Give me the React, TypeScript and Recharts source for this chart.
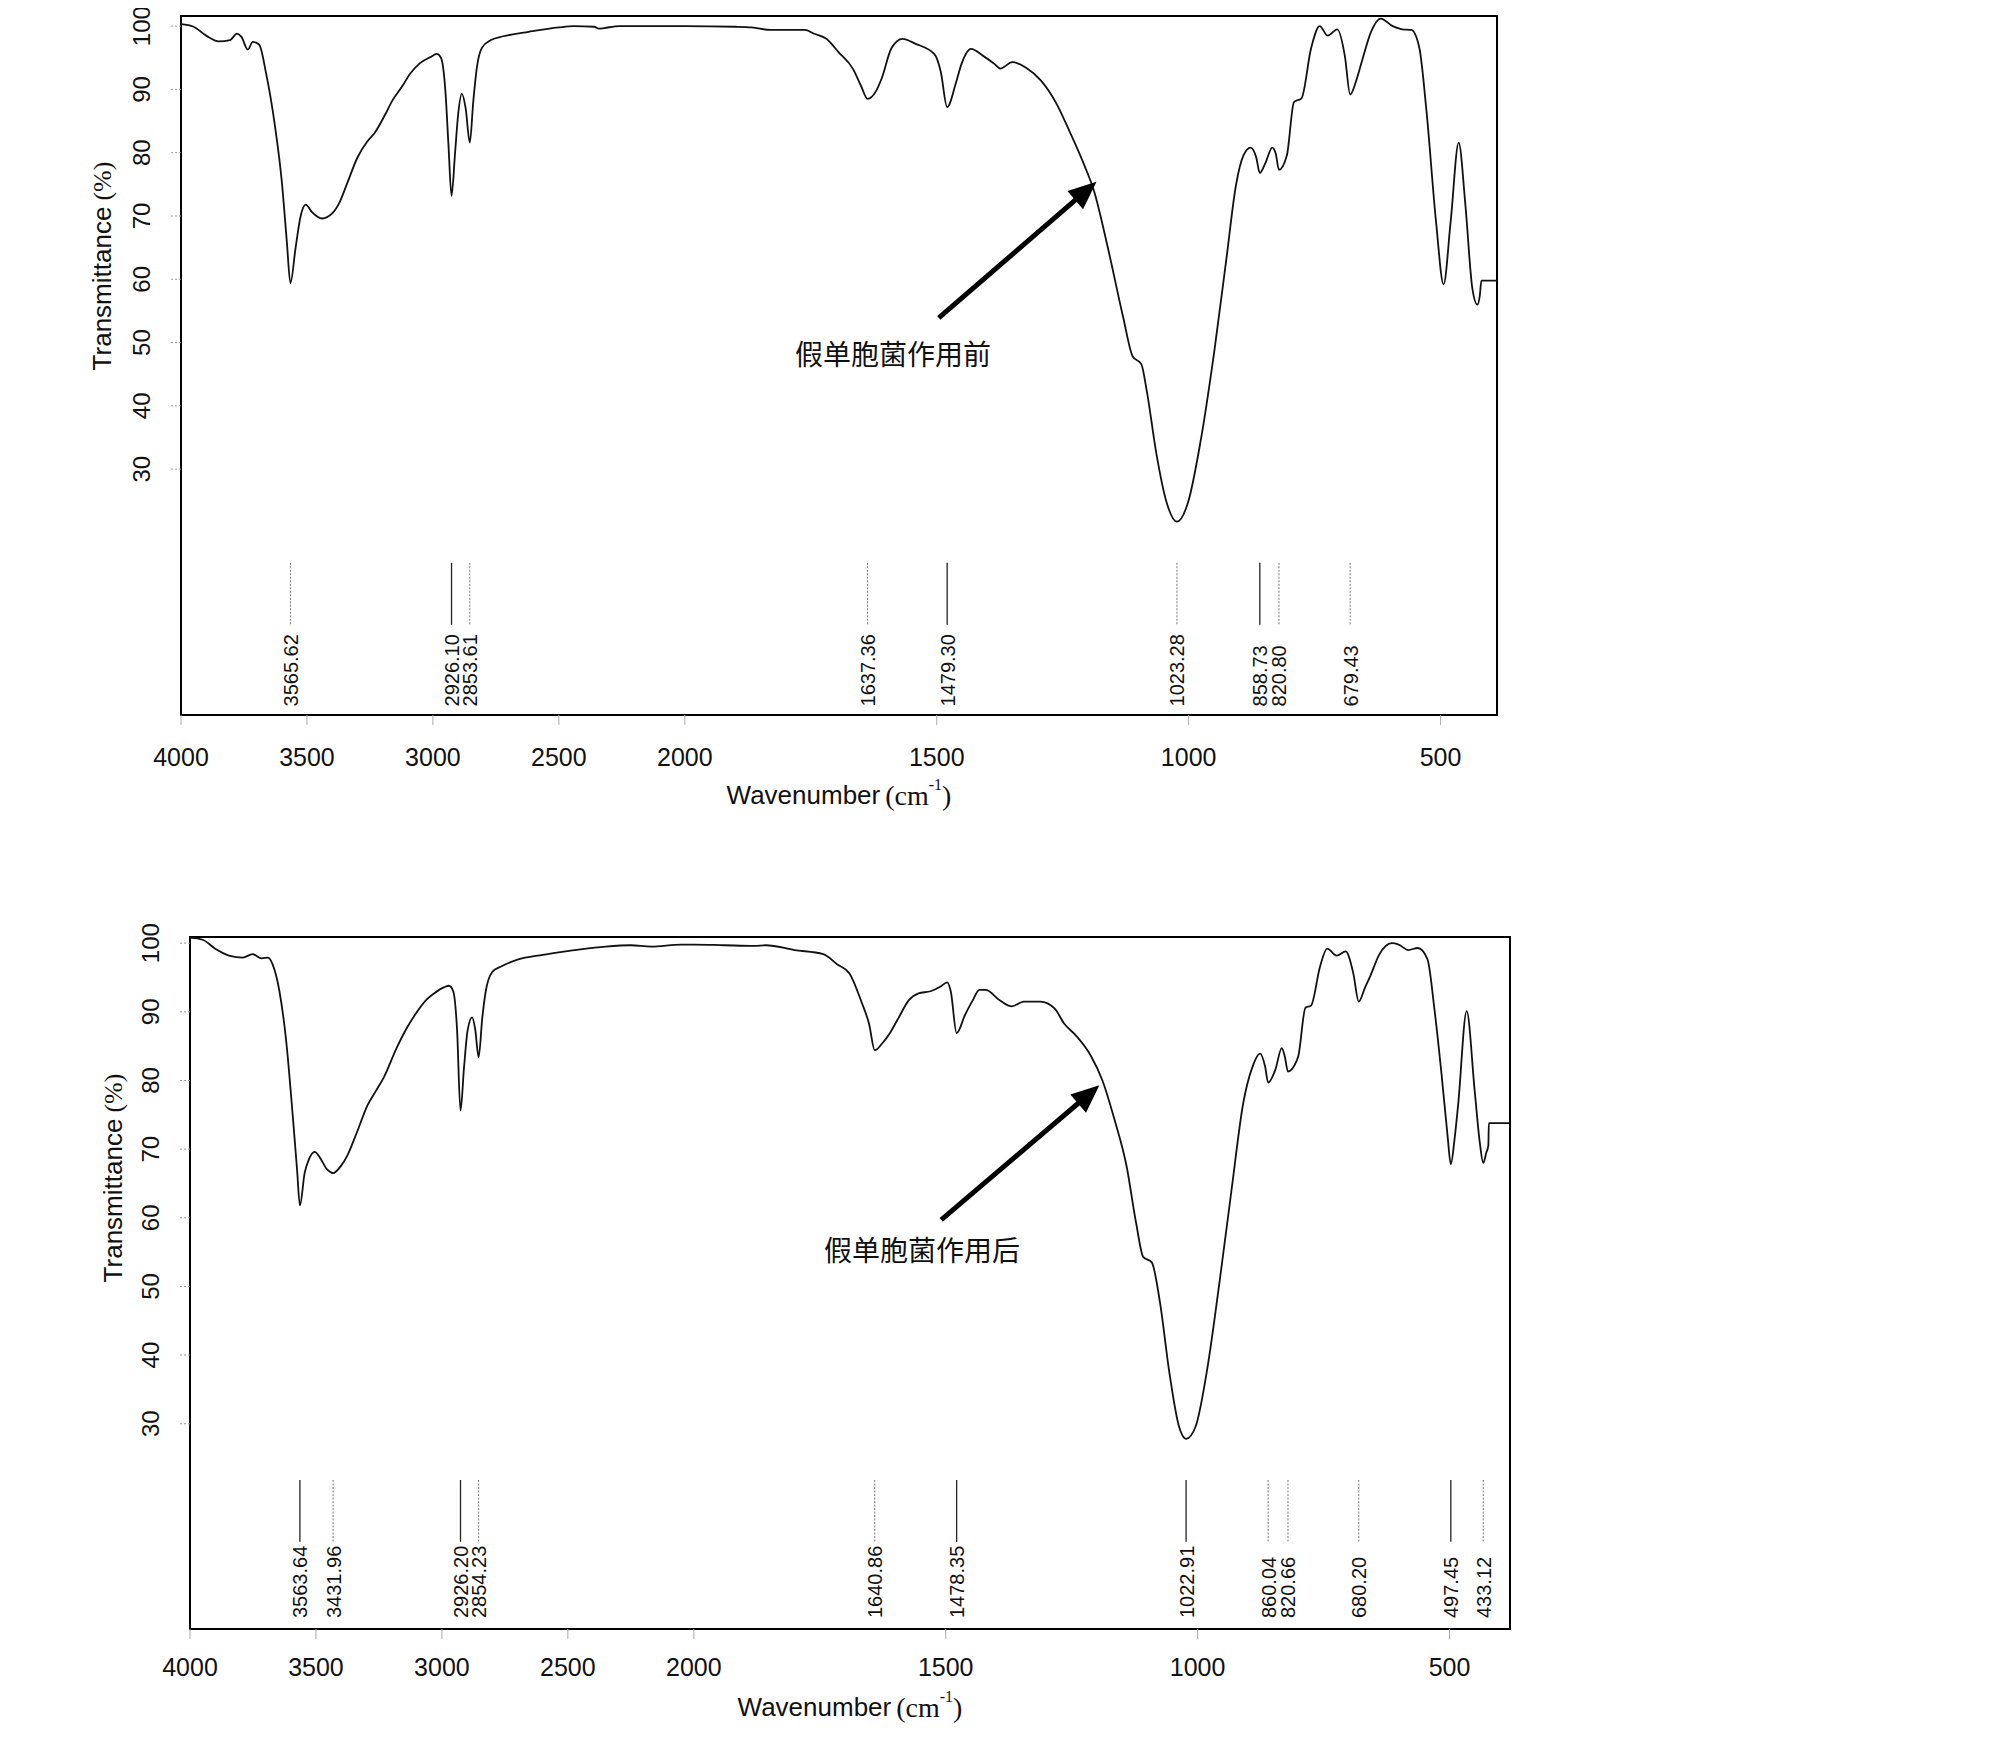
import React from "react";
import {
  LineChart,
  Line,
  XAxis,
  YAxis,
  ReferenceLine,
  ReferenceDot,
  ReferenceArea,
} from "recharts";

// axis ticks
const xTickLabels = [4000, 3500, 3000, 2500, 2000, 1500, 1000, 500];
const yTicks = [30, 40, 50, 60, 70, 80, 90, 100];

// the instrument plots 4000-2000 at half the scale of 2000-400
const toU = (w: number) => (w >= 2000 ? (4000 - w) / 2 : 1000 + (2000 - w));
const fromU = (u: number) => (u <= 1000 ? 4000 - u * 2 : 2000 - (u - 1000));

// spectrum before treatment (假单胞菌作用前)
const beforeWave = [
  4000, 3950, 3900, 3850, 3805, 3778, 3760, 3735, 3715, 3690, 3662, 3628, 3600,
  3580, 3565.62, 3545, 3525, 3505, 3480, 3440, 3400, 3370, 3340, 3300, 3260,
  3230, 3190, 3160, 3120, 3090, 3050, 3010, 2985, 2968, 2950, 2938, 2926.1,
  2912, 2900, 2885, 2870, 2853.61, 2840, 2825, 2805, 2770, 2720, 2620, 2500,
  2440, 2360, 2340, 2320, 2260, 2150, 2000, 1900, 1867, 1830, 1762, 1743, 1719,
  1695, 1666, 1650, 1637.36, 1620, 1609, 1590, 1568, 1542, 1505, 1492, 1479.3,
  1462, 1451, 1432, 1408, 1385, 1374, 1350, 1322, 1293, 1264, 1236, 1207, 1188,
  1159, 1130, 1111, 1094, 1083, 1064, 1044, 1023.28, 1001, 977, 949, 925, 906,
  891, 877, 866, 858.73, 848, 834, 827, 820.8, 805, 791, 776, 757, 740, 724,
  705, 690, 679.43, 667, 657, 638, 619, 595, 576, 558, 542, 528, 509, 494, 480,
  464, 451, 437, 427, 422, 419, 388,
];
const beforeT = [
  100.3, 99.9, 98.5, 97.6, 97.8, 98.8, 98.3, 96.3, 97.5, 97.1, 92.5, 84.5, 75.5,
  66, 59.4, 65, 70, 71.8, 70.6, 69.6, 70.4, 72.2, 75.2, 79.2, 81.8, 83.2, 86.0,
  88.3, 90.6, 92.5, 94.2, 95.1, 95.6, 95.0, 89.5, 81, 73.2, 80, 86, 89.3, 87,
  81.6, 88, 93.6, 96.6, 97.8, 98.4, 99.1, 99.8, 100, 99.9, 99.6, 99.7, 100, 100,
  100, 99.9, 99.8, 99.4, 99.4, 98.8, 98.0, 95.9, 93.2, 90.5, 88.5, 89.8, 91.8,
  96.5, 98.0, 97.2, 95.6, 92.8, 87.2, 91.0, 94.0, 96.4, 95.3, 94.0, 93.3, 94.3,
  93.4, 91.4, 88.0, 83.3, 78.0, 74.0, 64.5, 54.0, 47.8, 46.6, 42.3, 32.4, 24.8,
  21.7, 24.8, 34.1, 48.7, 63.3, 74.9, 79.6, 80.8, 79.3, 76.8, 78.3, 80.8, 79.8,
  77.3, 79.6, 88.0, 88.6, 96.5, 100, 98.5, 99.5, 95.3, 89.2, 91.5, 94.2, 99.1,
  101.2, 100, 99.5, 99.4, 96.5, 86.6, 69.1, 59.2, 69.1, 81.6, 72.0, 58.6, 56.0,
  57.5, 59.8, 59.8,
];
const beforePeaks = [
  3565.62, 2926.1, 2853.61, 1637.36, 1479.3, 1023.28, 858.73, 820.8, 679.43,
];
const beforePeakSolid = [false, true, false, false, true, false, true, false, false];

// spectrum after treatment (假单胞菌作用后)
const afterWave = [
  4000, 3950, 3900, 3845, 3790, 3752, 3716, 3690, 3672, 3645, 3618, 3592, 3575,
  3563.64, 3545, 3528, 3505, 3485, 3455, 3431.96, 3400, 3375, 3340, 3295, 3260,
  3230, 3180, 3140, 3106, 3060, 3034, 2990, 2972, 2955, 2940, 2926.2, 2912,
  2898, 2880, 2868, 2854.23, 2840, 2826, 2800, 2765, 2700, 2600, 2530, 2450,
  2350, 2250, 2170, 2050, 2000, 1940, 1880, 1857, 1800, 1743, 1715, 1691, 1667,
  1652, 1640.86, 1625, 1610, 1596, 1573, 1554, 1530, 1510, 1497, 1490, 1478.35,
  1462, 1447, 1433, 1421, 1393, 1369, 1345, 1312, 1284, 1265, 1241, 1212, 1189,
  1165, 1141, 1122, 1108, 1091, 1075, 1056, 1037, 1022.91, 1004, 980, 957, 933,
  909, 892, 876, 866, 860.04, 846, 833, 827, 820.66, 808, 800, 786, 775, 757,
  743, 724, 706, 691, 680.2, 668, 658, 639, 615, 601, 582, 563, 544, 530, 516,
  504, 497.45, 490, 483, 466, 450, 440, 433.12, 427, 423, 422, 380,
];
const afterT = [
  100.8, 100.5, 99.2, 98.2, 97.9, 98.4, 97.8, 97.9, 96.9, 93.0, 85.7, 74.8, 67.0,
  61.8, 66.5, 68.5, 69.6, 68.8, 67.0, 66.5, 67.6, 69.1, 72.2, 76.4, 78.6, 80.5,
  84.7, 87.6, 89.6, 91.8, 92.6, 93.6, 93.8, 93.0, 87.5, 75.6, 82, 87.3, 89.2,
  87.5, 83.4, 89, 93.0, 95.8, 96.6, 97.6, 98.3, 98.7, 99.1, 99.5, 99.7, 99.5,
  99.8, 99.8, 99.7, 99.6, 99.7, 99.0, 98.4, 96.9, 95.6, 91.4, 88.2, 84.4, 85.5,
  87.0, 88.8, 91.7, 92.7, 93.0, 93.7, 94.3, 93.0, 86.9, 89.5, 91.6, 93.2, 93.2,
  91.7, 90.8, 91.5, 91.5, 90.5, 88.3, 86.5, 83.6, 80.0, 74.3, 67.5, 59.2, 54.3,
  53.5, 47.8, 37.4, 29.6, 27.8, 29.6, 38.4, 50.4, 63.9, 76.9, 81.8, 83.9, 82.0,
  79.7, 81.5, 84.7, 83.5, 81.3, 82.2, 83.6, 90.6, 90.9, 96.6, 99.2, 98.2, 98.8,
  95.6, 91.5, 93.5, 95.1, 98.4, 100, 99.8, 99.0, 99.3, 97.7, 90.4, 81.0, 72,
  67.8, 71.5, 76.4, 90.1, 78.4, 71, 68.0, 69.5, 70.5, 73.8, 73.8,
];
const afterPeaks = [
  3563.64, 3431.96, 2926.2, 2854.23, 1640.86, 1478.35, 1022.91, 860.04, 820.66,
  680.2, 497.45, 433.12,
];
const afterPeakSolid = [
  true, false, true, false, false, true, true, false, false, false, true, false,
];

const SANS = "'Liberation Sans', Arial, sans-serif";
const SERIF = "'Liberation Serif', 'Times New Roman', serif";
const CJK = "'Noto Sans CJK SC', sans-serif";

type PanelProps = {
  wave: number[];
  trans: number[];
  peaks: number[];
  peakSolid: boolean[];
  yDomain: [number, number];
  peakTop: number;
  peakBottom: number;
  labelBase: number;
  note: string;
  arrowTail: [number, number];
  arrowTip: [number, number];
  notePos: [number, number];
  width: number;
  height: number;
  margin: { top: number; right: number; bottom: number; left: number };
  yAxisWidth: number;
  xTickGap: number;
  xLabelGap: number;
  yLabelDx: number;
  yLabelDy: number;
};

const XTick = (p: any) => (
  <text
    x={p.x}
    y={p.y}
    textAnchor="middle"
    dominantBaseline="central"
    fontSize={25}
    fontFamily={SANS}
    fill="#111"
  >
    {fromU(p.payload.value)}
  </text>
);

const YTick = (p: any) => (
  <text
    x={p.x}
    y={p.y}
    transform={`rotate(-90 ${p.x} ${p.y})`}
    textAnchor="middle"
    dominantBaseline="central"
    fontSize={24}
    fontFamily={SANS}
    fill="#111"
  >
    {p.payload.value}
  </text>
);

const Panel = (props: PanelProps) => {
  const data = props.wave.map((w, i) => ({ u: toU(w), t: props.trans[i] }));
  const uMax = toU(props.wave[props.wave.length - 1]);
  const [tailW, tailT] = props.arrowTail;
  const [tipW, tipT] = props.arrowTip;
  const tailU = toU(tailW);
  const tipU = toU(tipW);
  const shaftEnd = { x: tailU + (tipU - tailU) * 0.9, y: tailT + (tipT - tailT) * 0.9 };

  return (
    <LineChart width={props.width} height={props.height} data={data} margin={props.margin}>
      <XAxis
        type="number"
        dataKey="u"
        domain={[0, uMax]}
        ticks={xTickLabels.map(toU)}
        interval={0}
        axisLine={false}
        tickSize={10}
        tickMargin={props.xTickGap}
        tickLine={{ stroke: "#aaa" }}
        tick={XTick}
        height={100}
        label={(lp: any) => {
          const vb = lp.viewBox;
          const cx = vb.x + vb.width / 2;
          const cy = vb.y + props.xLabelGap;
          return (
            <text x={cx} y={cy} textAnchor="middle" dominantBaseline="central" fontSize={26} fill="#111">
              <tspan fontFamily={SANS}>Wavenumber</tspan>
              <tspan fontFamily={SERIF} fontSize={28} dx={5}>(cm</tspan>
              <tspan fontFamily={SERIF} fontSize={16} dy={-11}>-1</tspan>
              <tspan fontFamily={SERIF} fontSize={28} dy={11}>)</tspan>
            </text>
          );
        }}
      />
      <YAxis
        type="number"
        domain={props.yDomain}
        ticks={yTicks}
        interval={0}
        axisLine={false}
        tickSize={10}
        tickMargin={29}
        tickLine={{ stroke: "#999", strokeDasharray: "2 2" }}
        tick={YTick}
        width={props.yAxisWidth}
        label={(lp: any) => {
          const vb = lp.viewBox;
          const cx = vb.x + vb.width - props.yLabelDx;
          const cy = vb.y + props.yLabelDy;
          return (
            <text
              x={cx}
              y={cy}
              transform={`rotate(-90 ${cx} ${cy})`}
              textAnchor="middle"
              dominantBaseline="central"
              fontSize={26}
              fill="#111"
            >
              <tspan fontFamily={SANS}>Transmittance</tspan>
              <tspan fontFamily={SERIF} dx={6}>(%)</tspan>
            </text>
          );
        }}
      />
      <ReferenceArea
        x1={0}
        x2={uMax}
        y1={props.yDomain[0]}
        y2={props.yDomain[1]}
        fill="none"
        stroke="#000"
        strokeWidth={2}
        ifOverflow="visible"
      />
      {props.peaks.map((w, i) => (
        <ReferenceLine
          key={`pl${i}`}
          segment={[
            { x: toU(w), y: props.peakTop },
            { x: toU(w), y: props.peakBottom },
          ]}
          stroke={props.peakSolid[i] ? "#222" : "#777"}
          strokeWidth={props.peakSolid[i] ? 1.3 : 1}
          strokeDasharray={props.peakSolid[i] ? undefined : "2 1.5"}
        />
      ))}
      {props.peaks.map((w, i) => (
        <ReferenceDot
          key={`pt${i}`}
          x={toU(w)}
          y={props.labelBase}
          shape={(sp: any) => {
            const bx = sp.cx + 7.5;
            return (
              <text
                x={bx}
                y={sp.cy}
                transform={`rotate(-90 ${bx} ${sp.cy})`}
                textAnchor="start"
                fontSize={20}
                fontFamily={SANS}
                fill="#111"
              >
                {w.toFixed(2)}
              </text>
            );
          }}
        />
      ))}
      <ReferenceLine
        segment={[{ x: tailU, y: tailT }, shaftEnd]}
        stroke="#000"
        strokeWidth={5}
      />
      <ReferenceDot
        x={tipU}
        y={tipT}
        shape={(sp: any) => (
          <polygon
            points="0,0 -28,-12 -28,12"
            fill="#000"
            transform={`translate(${sp.cx} ${sp.cy}) rotate(-40.7)`}
          />
        )}
      />
      <ReferenceDot
        x={toU(props.notePos[0])}
        y={props.notePos[1]}
        shape={(sp: any) => (
          <text
            x={sp.cx}
            y={sp.cy}
            textAnchor="middle"
            dominantBaseline="central"
            fontSize={28}
            fontFamily={CJK}
            fill="#111"
          >
            {props.note}
          </text>
        )}
      />
      <Line
        type="monotone"
        dataKey="t"
        stroke="#111"
        strokeWidth={1.8}
        dot={false}
        isAnimationActive={false}
      />
    </LineChart>
  );
};

export default function App() {
  return (
    <div style={{ position: "relative", width: 1992, height: 1725, background: "#fff" }}>
      <div style={{ position: "absolute", left: 0, top: -8 }}>
        <Panel
          wave={beforeWave}
          trans={beforeT}
          peaks={beforePeaks}
          peakSolid={beforePeakSolid}
          yDomain={[-8.85, 101.6]}
          peakTop={15.2}
          peakBottom={5.4}
          labelBase={-7.5}
          note="假单胞菌作用前"
          arrowTail={[1496, 53.9]}
          arrowTip={[1183, 75.4]}
          notePos={[1587, 48.4]}
          width={1600}
          height={838}
          margin={{ top: 16, right: 111, bottom: 23, left: 0 }}
          yAxisWidth={173}
          xTickGap={32}
          xLabelGap={80}
          yLabelDx={79}
          yLabelDy={250}
        />
      </div>
      <div style={{ position: "absolute", left: 0, top: 872 }}>
        <Panel
          wave={afterWave}
          trans={afterT}
          peaks={afterPeaks}
          peakSolid={afterPeakSolid}
          yDomain={[0.1, 100.9]}
          peakTop={21.8}
          peakBottom={12.8}
          labelBase={1.7}
          note="假单胞菌作用后"
          arrowTail={[1509, 59.7]}
          arrowTip={[1195, 79.3]}
          notePos={[1547, 55.5]}
          width={1600}
          height={850}
          margin={{ top: 57, right: 98, bottom: 1, left: 0 }}
          yAxisWidth={182}
          xTickGap={28}
          xLabelGap={78}
          yLabelDx={77}
          yLabelDy={241}
        />
      </div>
    </div>
  );
}
